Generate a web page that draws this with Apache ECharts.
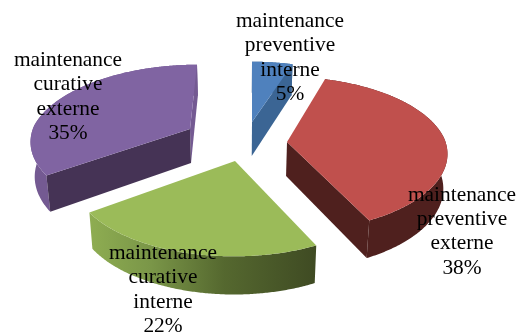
<!DOCTYPE html>
<html><head><meta charset="utf-8">
<style>html,body{margin:0;padding:0;background:#fff}#c{width:531px;height:335px}</style>
<script src="https://cdn.jsdelivr.net/npm/echarts@6/dist/echarts.min.js"></script>
</head><body><div id="c"></div>
<script>
// ---- data ----
const categories = ['maintenance\npreventive\ninterne','maintenance\npreventive\nexterne','maintenance\ncurative\ninterne','maintenance\ncurative\nexterne'];
const shares = [5, 38, 22, 35];

// ---- layout and style of the tilted pie ----
const radiusX = 157, radiusY = 74, perspective = 0.207, depth = 34, wallConverge = 0.98, wallAxisX = 240;
const sliceCenters = [[252,122],[287,142],[235,161],[190,129]];
const rimShifts = [[0,1],[0,-4],[-1,2],[1,-3]];
const backLean = [0,-2.7,0,6];
const labelCenters = [[290,58],[462,231.5],[163,290],[68,97]];
const topColors = ['#4f81bd','#c0504d','#9bbb59','#8064a2'];
const faceColors = ['#3b6594','#4f201e','#4a5a2a','#453355'];
const rimColors = [
  '#3b6594',
  '#4f201e',
  new echarts.graphic.LinearGradient(87,0,315,0,[
    {offset:0,color:'#8fae52'},{offset:.28,color:'#7a9648'},{offset:.6,color:'#55682f'},{offset:1,color:'#3f4b23'}],true),
  '#745a92'
];
const total = shares.reduce((a,b)=>a+b,0);

function project(i, deg){
  const c = sliceCenters[i], t = deg*Math.PI/180, u = Math.sin(t), w = -Math.cos(t), s = 1/(1-perspective*w);
  return {
    x: c[0]+rimShifts[i][0]+radiusX*u*s+backLean[i]*Math.max(0,-w),
    y: c[1]+rimShifts[i][1]+radiusY*w*s,
    s
  };
}
function lower(p, s){
  return [wallAxisX+(p[0]-wallAxisX)*wallConverge, p[1]+depth*Math.sqrt(s)];
}
function renderItem(params, api){
  const i = params.dataIndex, value = api.value(0);
  const before = shares.slice(0,i).reduce((a,b)=>a+b,0);
  const a0 = before/total*360, a1 = a0+value/total*360;
  const c = sliceCenters[i];
  const rim = [], rimLow = [];
  const n = Math.ceil(a1-a0)*2;
  for(let k=0;k<=n;k++){
    const p = project(i, a0+(a1-a0)*k/n);
    rim.push([p.x,p.y]); rimLow.push(lower([p.x,p.y],p.s));
  }
  const apexLow = lower(c,1);
  const children = [];
  const poly = (points, fill, z2) => ({type:'polygon', z2, shape:{points}, style:{fill}});
  const r0 = a0*Math.PI/180, r1 = a1*Math.PI/180;
  children.push(poly(rim.concat(rimLow.slice().reverse()), rimColors[i], 1));
  if(Math.sin(r1) >= -1e-6) children.push(poly([c,rim[n],rimLow[n],apexLow], i===3?rimColors[3]:faceColors[i], 2));
  if(-Math.sin(r0) > 1e-6) children.push(poly([c,rim[0],rimLow[0],apexLow], faceColors[i], 2));
  children.push(poly([c].concat(rim), topColors[i], 3));
  children.push({type:'text', z2:10, style:{
    text: categories[i]+'\n'+value+'%',
    x: labelCenters[i][0], y: labelCenters[i][1],
    align:'center', verticalAlign:'middle',
    font:'21.4px "Liberation Serif"', lineHeight:24.4, fill:'#000'
  }});
  return {type:'group', children};
}
const chart = echarts.init(document.getElementById('c'), null, {renderer:'canvas'});
chart.setOption({
  animation:false,
  series:[{type:'custom', coordinateSystem:'none', renderItem, data:shares.map(v=>[v]), silent:true}]
});
</script></body></html>
